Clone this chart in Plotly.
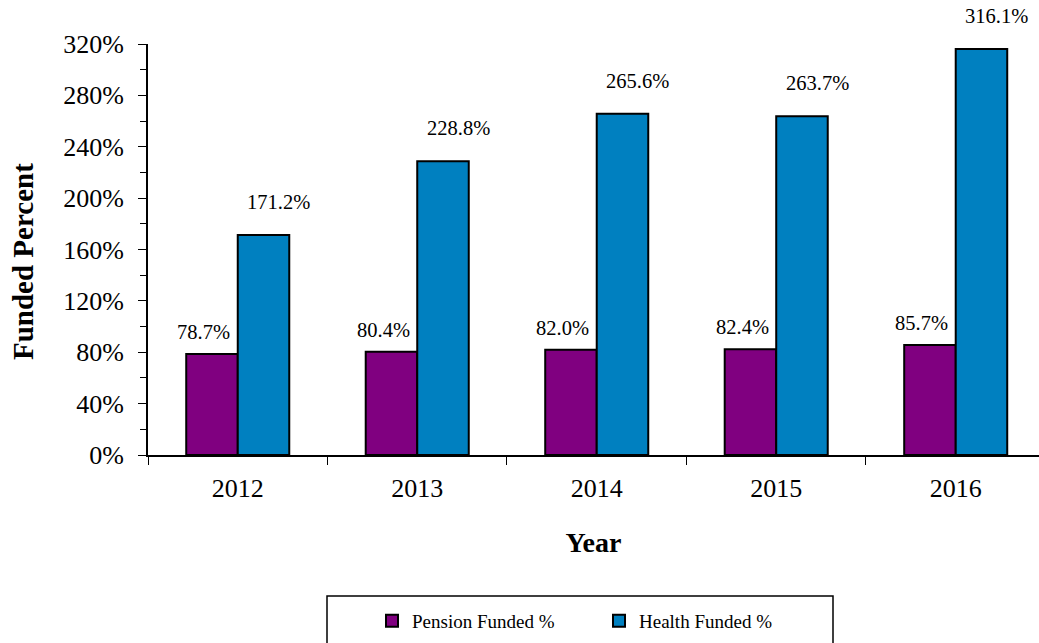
import plotly.graph_objects as go

years = ["2012", "2013", "2014", "2015", "2016"]
pension = [78.7, 80.4, 82.0, 82.4, 85.7]
health = [171.2, 228.8, 265.6, 263.7, 316.1]
y_ticks = [0, 40, 80, 120, 160, 200, 240, 280, 320]

FONT = "Liberation Serif, Times New Roman, serif"
PURPLE = "#800080"
BLUE = "#0080C0"

fig = go.Figure()
fig.add_trace(go.Bar(name="Pension Funded %", x=years, y=pension,
                     marker=dict(color=PURPLE, line=dict(color="black", width=2))))
fig.add_trace(go.Bar(name="Health Funded %", x=years, y=health,
                     marker=dict(color=BLUE, line=dict(color="black", width=2))))

annotations = []
for i, v in enumerate(pension):
    annotations.append(dict(x=i, y=v, xref="x", yref="y", text=f"{v:.1f}%",
                            showarrow=False, xshift=-34, yshift=22, yanchor="middle",
                            font=dict(family=FONT, size=20.5, color="black")))
for i, v in enumerate(health):
    annotations.append(dict(x=i, y=v, xref="x", yref="y", text=f"{v:.1f}%",
                            showarrow=False, xshift=41, yshift=33, yanchor="middle",
                            font=dict(family=FONT, size=20.5, color="black")))
annotations.append(dict(x=0, y=(455 - 262) / 411, xref="paper", yref="paper",
                        xshift=-125, text="<b>Funded Percent</b>", textangle=-90,
                        showarrow=False, xanchor="center", yanchor="middle",
                        font=dict(family=FONT, size=29, color="black")))

fig.update_layout(
    width=1039, height=643,
    margin=dict(l=148, r=0, t=44, b=188, autoexpand=False),
    paper_bgcolor="white", plot_bgcolor="white",
    barmode="group", bargap=0.426, bargroupgap=0,
    font=dict(family=FONT, size=24, color="black"),
    annotations=annotations,
    showlegend=True,
    legend=dict(orientation="h", x=(372 - 148) / 891, xref="paper", xanchor="left",
                y=(643 - 621) / 643, yref="container", yanchor="middle",
                entrywidth=182, entrywidthmode="pixels",
                font=dict(family=FONT, size=19, color="black"),
                bgcolor="rgba(0,0,0,0)", borderwidth=0, itemwidth=30),
    shapes=[dict(type="rect", xref="paper", yref="paper",
                 x0=(327 - 148) / 891, x1=(833 - 148) / 891,
                 y0=(455 - 596) / 411, y1=(455 - 650) / 411,
                 line=dict(color="black", width=1.5),
                 fillcolor="rgba(0,0,0,0)", layer="below")],
)
fig.update_xaxes(type="category", range=[-0.5, 4.464], showline=True, linecolor="black",
                 linewidth=2, ticks="outside", tickson="boundaries", ticklen=8,
                 tickcolor="black", tickwidth=1, showgrid=False, zeroline=False,
                 ticklabelstandoff=9,
                 title=dict(text="<b>Year</b>", standoff=30,
                            font=dict(family=FONT, size=28, color="black")),
                 tickfont=dict(family=FONT, size=26, color="black"))
fig.update_yaxes(range=[0, 320], tickvals=y_ticks, ticktext=[f"{t}%" for t in y_ticks],
                 showline=True, linecolor="black", linewidth=2, ticks="outside",
                 ticklen=8, tickcolor="black", tickwidth=1, showgrid=False,
                 zeroline=False, ticklabelstandoff=9,
                 minor=dict(dtick=20, tick0=0, ticks="outside", ticklen=6,
                            tickcolor="black", tickwidth=1, showgrid=False),
                 tickfont=dict(family=FONT, size=26, color="black"))

fig.write_html("out.html")
